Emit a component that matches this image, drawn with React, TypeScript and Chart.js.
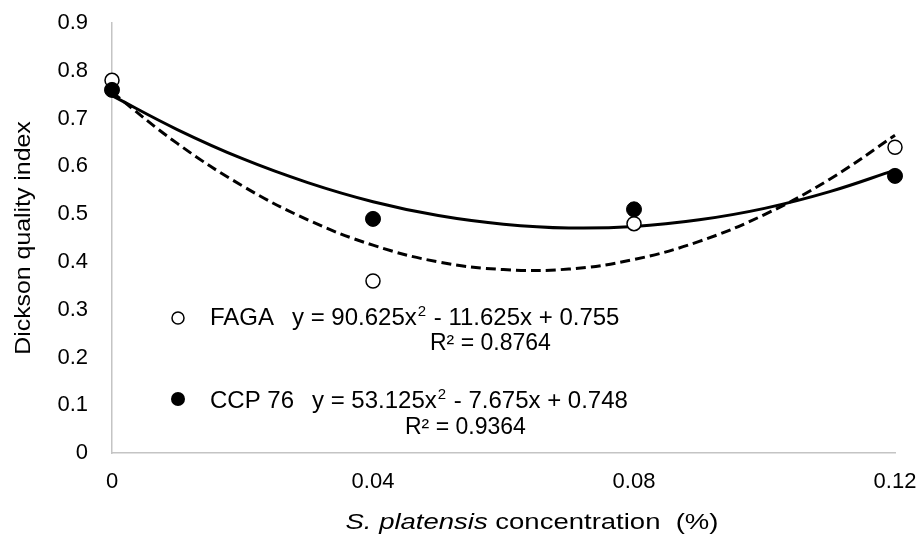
import React, { useEffect, useRef } from "react";
import { Chart, registerables } from "chart.js";

Chart.register(...registerables);

const concentrations = [0, 0.04, 0.08, 0.12];
const fagaValues = [0.78, 0.36, 0.48, 0.64];
const ccpValues = [0.76, 0.49, 0.51, 0.58];

const trendX = [0, 0.01, 0.02, 0.03, 0.04, 0.05, 0.06, 0.07, 0.08, 0.09, 0.1, 0.11, 0.12];
const fagaTrend = [0.755, 0.648, 0.559, 0.488, 0.435, 0.4, 0.384, 0.385, 0.405, 0.443, 0.499, 0.573, 0.665];
const ccpTrend = [0.748, 0.677, 0.616, 0.566, 0.526, 0.497, 0.479, 0.471, 0.474, 0.488, 0.512, 0.547, 0.592];

const xTickValues = [0, 0.04, 0.08, 0.12];
const yMax = 0.9;

const fagaLabel = "FAGA";
const ccpLabel = "CCP 76";
const fagaEq = ["y = 90.625x", "2", " - 11.625x + 0.755"];
const fagaR2 = "R² = 0.8764";
const ccpEq = ["y = 53.125x", "2", " - 7.675x + 0.748"];
const ccpR2 = "R² = 0.9364";
const yTitle = "Dickson quality index";
const xTitleItalic = "S. platensis";
const xTitleRest = " concentration  (%)";

const FONT = "'Liberation Sans', Arial, sans-serif";

const annotationPlugin = {
  id: "annotations",
  afterDraw(chart: any) {
    const ctx = chart.ctx as CanvasRenderingContext2D;
    const area = chart.chartArea;
    ctx.save();
    ctx.fillStyle = "#000";
    ctx.textBaseline = "alphabetic";

    // Y title
    ctx.save();
    ctx.translate(30, (area.top + area.bottom) / 2);
    ctx.rotate(-Math.PI / 2);
    ctx.scale(1.13, 1);
    ctx.font = `22px ${FONT}`;
    ctx.textAlign = "center";
    ctx.fillText(yTitle, 0, 0);
    ctx.restore();

    // X title
    ctx.save();
    ctx.textAlign = "left";
    const sx = 1.25;
    ctx.font = `italic 22px ${FONT}`;
    const w1 = ctx.measureText(xTitleItalic).width;
    ctx.font = `22px ${FONT}`;
    const w2 = ctx.measureText(xTitleRest).width;
    const cx = 532;
    ctx.translate(cx - ((w1 + w2) * sx) / 2, 529);
    ctx.scale(sx, 1);
    ctx.font = `italic 22px ${FONT}`;
    ctx.fillText(xTitleItalic, 0, 0);
    ctx.font = `22px ${FONT}`;
    ctx.fillText(xTitleRest, w1, 0);
    ctx.restore();

    const drawEq = (parts: string[], x: number, y: number) => {
      ctx.font = `24px ${FONT}`;
      ctx.fillText(parts[0], x, y);
      let px = x + ctx.measureText(parts[0]).width;
      ctx.font = `15px ${FONT}`;
      ctx.fillText(parts[1], px + 1, y - 9);
      px += ctx.measureText(parts[1]).width + 2;
      ctx.font = `24px ${FONT}`;
      ctx.fillText(parts[2], px, y);
    };

    // FAGA legend
    ctx.beginPath();
    ctx.arc(178, 318, 6, 0, Math.PI * 2);
    ctx.fillStyle = "#fff";
    ctx.fill();
    ctx.lineWidth = 1.5;
    ctx.strokeStyle = "#000";
    ctx.stroke();
    ctx.fillStyle = "#000";
    ctx.font = `24px ${FONT}`;
    ctx.fillText(fagaLabel, 210, 325);
    drawEq(fagaEq, 292, 325);
    ctx.font = `23px ${FONT}`;
    ctx.fillText(fagaR2, 430, 350);

    // CCP legend
    ctx.beginPath();
    ctx.arc(178, 399, 7, 0, Math.PI * 2);
    ctx.fillStyle = "#000";
    ctx.fill();
    ctx.font = `24px ${FONT}`;
    ctx.fillText(ccpLabel, 210, 408);
    drawEq(ccpEq, 312, 408);
    ctx.font = `23px ${FONT}`;
    ctx.fillText(ccpR2, 405, 434);

    ctx.restore();
  },
};

export default function App() {
  const ref = useRef<HTMLCanvasElement | null>(null);

  useEffect(() => {
    if (!ref.current) return;
    const chart = new Chart(ref.current, {
      type: "scatter",
      data: {
        datasets: [
          {
            label: ccpLabel,
            data: concentrations.map((x, i) => ({ x, y: ccpValues[i] })),
            pointRadius: 7.5,
            pointBackgroundColor: "#000",
            pointBorderColor: "#000",
            pointBorderWidth: 1,
            showLine: false,
            clip: false,
          },
          {
            label: fagaLabel,
            data: concentrations.map((x, i) => ({ x, y: fagaValues[i] })),
            pointRadius: 7,
            pointBackgroundColor: "#fff",
            pointBorderColor: "#000",
            pointBorderWidth: 1.5,
            showLine: false,
            clip: false,
          },
          {
            label: "CCP trend",
            data: trendX.map((x, i) => ({ x, y: ccpTrend[i] })),
            showLine: true,
            borderColor: "#000",
            borderWidth: 3,
            pointRadius: 0,
            tension: 0.4,
            fill: false,
            clip: false,
          },
          {
            label: "FAGA trend",
            data: trendX.map((x, i) => ({ x, y: fagaTrend[i] })),
            showLine: true,
            borderColor: "#000",
            borderWidth: 3,
            borderDash: [10, 5],
            pointRadius: 0,
            tension: 0.4,
            fill: false,
            clip: false,
          },
        ],
      },
      options: {
        animation: false,
        responsive: false,
        maintainAspectRatio: false,
        layout: { padding: { top: 23, right: 27, left: 0, bottom: 0 } },
        plugins: {
          legend: { display: false },
          tooltip: { enabled: false },
        },
        scales: {
          x: {
            type: "linear",
            min: 0,
            max: 0.12,
            afterBuildTicks: (scale: any) => {
              scale.ticks = xTickValues.map((v) => ({ value: v }));
            },
            afterFit: (scale: any) => {
              scale.height = 82;
              scale.paddingLeft = 0;
              scale.paddingRight = 0;
            },
            grid: { display: false },
            border: { display: true, color: "#c4c4c4", width: 1.5 },
            ticks: {
              color: "#000",
              font: { family: FONT, size: 22 },
              padding: 8,
              maxRotation: 0,
              callback: (v: any) => String(Number(Number(v).toFixed(2))),
            },
          },
          y: {
            min: 0,
            max: yMax,
            afterFit: (scale: any) => {
              scale.width = 112;
              scale.paddingTop = 0;
              scale.paddingBottom = 0;
            },
            grid: { display: false },
            border: { display: true, color: "#c4c4c4", width: 1.5 },
            ticks: {
              stepSize: 0.1,
              color: "#000",
              font: { family: FONT, size: 22 },
              padding: 16,
              callback: (v: any) => String(Number(Number(v).toFixed(1))),
            },
          },
        },
      },
      plugins: [annotationPlugin],
    } as any);
    return () => chart.destroy();
  }, []);

  return (
    <div style={{ position: "absolute", left: 0, top: 0, width: 922, height: 535, background: "#fff" }}>
      <canvas ref={ref} width={922} height={535} style={{ width: 922, height: 535 }} />
    </div>
  );
}
